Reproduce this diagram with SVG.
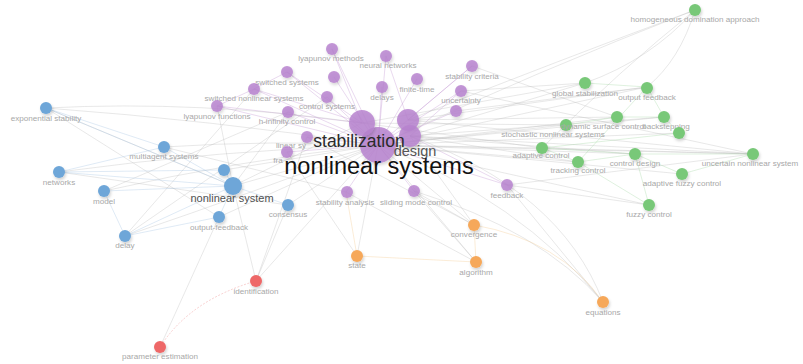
<svg xmlns="http://www.w3.org/2000/svg" width="803" height="364" viewBox="0 0 803 364">
<style>
.e{fill:none;stroke:#b8b8b8;stroke-width:0.6;stroke-opacity:0.55}
.ep{fill:none;stroke:#c49ad6;stroke-width:0.7;stroke-opacity:0.55}
.eb{fill:none;stroke:#9cc0e0;stroke-width:0.6;stroke-opacity:0.55}
.eg{fill:none;stroke:#9ed49e;stroke-width:0.6;stroke-opacity:0.55}
.eo{fill:none;stroke:#f3c98f;stroke-width:0.6;stroke-opacity:0.6}
.er{fill:none;stroke:#f0a0a0;stroke-width:0.7;stroke-opacity:0.7;stroke-dasharray:2 1.5}
.p{fill:#b783cf;fill-opacity:0.85}
.b{fill:#6ea6d8}
.g{fill:#78c878}
.o{fill:#f6a85a}
.r{fill:#ee6868}
circle{filter:url(#sh)}
text{font-family:"Liberation Sans",Arial,sans-serif;text-anchor:middle}
.l{font-size:8.1px;fill:#a8a8a8}
.m{font-size:11px;fill:#505050}
</style>
<defs>
<filter id="sh" x="-60%" y="-60%" width="220%" height="220%">
<feDropShadow dx="1" dy="2" stdDeviation="1.6" flood-color="#000" flood-opacity="0.18"/>
</filter>
</defs>
<rect width="803" height="364" fill="#fff"/>
<g id="connectors">
<path class="ep" d="M378 145 L332 49"/>
<path class="ep" d="M378 145 L386 56"/>
<path class="ep" d="M378 145 L287 72"/>
<path class="ep" d="M378 145 L334 77"/>
<path class="ep" d="M378 145 L254 89"/>
<path class="ep" d="M378 145 L217 106"/>
<path class="ep" d="M378 145 L327 97"/>
<path class="ep" d="M378 145 L382 87"/>
<path class="ep" d="M378 145 L417 79"/>
<path class="ep" d="M378 145 L472 66"/>
<path class="ep" d="M378 145 L461 91"/>
<path class="ep" d="M378 145 L456 111"/>
<path class="ep" d="M378 145 L288 112"/>
<path class="ep" d="M378 145 L307 137"/>
<path class="ep" d="M378 145 L287 152"/>
<path class="ep" d="M378 145 L346 192"/>
<path class="ep" d="M378 145 L414 191"/>
<path class="ep" d="M378 145 L507 185"/>
<path class="ep" d="M362 123 L287 72"/>
<path class="ep" d="M362 123 L254 89"/>
<path class="ep" d="M362 123 L217 106"/>
<path class="ep" d="M362 123 L332 49"/>
<path class="ep" d="M408 120 L472 66"/>
<path class="ep" d="M408 120 L386 56"/>
<path class="ep" d="M410 136 L461 91"/>
<path class="ep" d="M410 136 L507 185"/>
<path class="ep" d="M287 72 L254 89"/>
<path class="ep" d="M254 89 L217 106"/>
<path class="e" d="M378 145 Q210 120 46 108"/>
<path class="e" d="M362 123 Q200 100 46 108"/>
<path class="e" d="M378 145 Q270 140 164 147"/>
<path class="e" d="M378 145 Q220 150 59 172"/>
<path class="e" d="M378 145 Q240 160 104 191"/>
<path class="e" d="M378 145 Q260 190 125 236"/>
<path class="e" d="M378 145 L233 186"/>
<path class="e" d="M362 123 L233 186"/>
<path class="e" d="M378 145 L224 170"/>
<path class="e" d="M378 145 L219 217"/>
<path class="e" d="M378 145 L288 205"/>
<path class="e" d="M378 145 L256 281"/>
<path class="e" d="M378 145 Q540 70 695 10"/>
<path class="e" d="M408 120 Q560 60 695 10"/>
<path class="e" d="M585 83 Q650 60 695 10"/>
<path class="e" d="M647 87 Q680 60 695 10"/>
<path class="e" d="M542 148 Q620 70 695 10"/>
<path class="e" d="M378 145 L585 83"/>
<path class="e" d="M362 123 L585 83"/>
<path class="e" d="M378 145 L647 87"/>
<path class="e" d="M408 120 L647 87"/>
<path class="e" d="M378 145 L566 125"/>
<path class="e" d="M362 123 L566 125"/>
<path class="e" d="M378 145 L617 117"/>
<path class="e" d="M408 120 L617 117"/>
<path class="e" d="M378 145 L664 117"/>
<path class="e" d="M410 136 L664 117"/>
<path class="e" d="M378 145 L679 133"/>
<path class="e" d="M378 145 L542 148"/>
<path class="e" d="M362 123 L542 148"/>
<path class="e" d="M378 145 L578 162"/>
<path class="e" d="M410 136 L578 162"/>
<path class="e" d="M378 145 L635 154"/>
<path class="e" d="M410 136 L635 154"/>
<path class="e" d="M378 145 L682 174"/>
<path class="e" d="M378 145 L753 154"/>
<path class="e" d="M410 136 L753 154"/>
<path class="e" d="M408 120 L753 154"/>
<path class="e" d="M378 145 L649 205"/>
<path class="e" d="M378 145 L474 225"/>
<path class="e" d="M410 136 L474 225"/>
<path class="e" d="M378 145 L476 262"/>
<path class="e" d="M378 145 L357 256"/>
<path class="e" d="M378 145 Q520 200 603 302"/>
<path class="e" d="M410 136 Q560 190 603 302"/>
<path class="e" d="M461 91 L585 83"/>
<path class="e" d="M456 111 L647 87"/>
<path class="e" d="M472 66 L617 117"/>
<path class="e" d="M461 91 L753 154"/>
<path class="e" d="M507 185 L649 205"/>
<path class="e" d="M346 192 L476 262"/>
<path class="e" d="M414 191 L476 262"/>
<path class="e" d="M414 191 L474 225"/>
<path class="e" d="M307 137 L474 225"/>
<path class="e" d="M288 112 L233 186"/>
<path class="e" d="M217 106 L233 186"/>
<path class="e" d="M46 108 L219 217"/>
<path class="e" d="M46 108 L233 186"/>
<path class="e" d="M164 147 L346 192"/>
<path class="e" d="M59 172 L288 205"/>
<path class="e" d="M104 191 L288 112"/>
<path class="e" d="M125 236 L254 89"/>
<path class="e" d="M125 236 L327 97"/>
<path class="e" d="M219 217 L160 347"/>
<path class="e" d="M256 281 L288 205"/>
<path class="e" d="M256 281 L233 186"/>
<path class="e" d="M256 281 L307 137"/>
<path class="e" d="M357 256 L287 152"/>
<path class="e" d="M603 302 L507 185"/>
<path class="e" d="M603 302 Q540 230 414 191"/>
<path class="e" d="M753 154 L542 148"/>
<path class="e" d="M507 185 L753 154"/>
<path class="eb" d="M233 186 L46 108"/>
<path class="eb" d="M233 186 L164 147"/>
<path class="eb" d="M233 186 L59 172"/>
<path class="eb" d="M233 186 L104 191"/>
<path class="eb" d="M233 186 L125 236"/>
<path class="eb" d="M233 186 L219 217"/>
<path class="eb" d="M233 186 L288 205"/>
<path class="eb" d="M233 186 L224 170"/>
<path class="eb" d="M164 147 L59 172"/>
<path class="eb" d="M164 147 L46 108"/>
<path class="eb" d="M125 236 L104 191"/>
<path class="eb" d="M125 236 L219 217"/>
<path class="eb" d="M224 170 L59 172"/>
<path class="eg" d="M585 83 L647 87"/>
<path class="eg" d="M617 117 L664 117"/>
<path class="eg" d="M566 125 L617 117"/>
<path class="eg" d="M542 148 L578 162"/>
<path class="eg" d="M542 148 L635 154"/>
<path class="eg" d="M578 162 L635 154"/>
<path class="eg" d="M635 154 L753 154"/>
<path class="eg" d="M635 154 L682 174"/>
<path class="eg" d="M682 174 L753 154"/>
<path class="eg" d="M578 162 L649 205"/>
<path class="eg" d="M635 154 L649 205"/>
<path class="eg" d="M664 117 L679 133"/>
<path class="eg" d="M647 87 L664 117"/>
<path class="eg" d="M647 87 L578 162"/>
<path class="eg" d="M679 133 L542 148"/>
<path class="eo" d="M357 256 L476 262"/>
<path class="eo" d="M474 225 L476 262"/>
<path class="eo" d="M474 225 Q560 240 603 302"/>
<path class="eo" d="M357 256 L346 192"/>
<path class="er" d="M256 281 Q190 300 160 347"/>
</g>
<g id="n-nonlinear-systems"><circle class="p" cx="378" cy="145" r="18"/></g>
<g id="n-stabilization"><circle class="p" cx="362" cy="123" r="13"/></g>
<g id="n-p17"><circle class="p" cx="408" cy="120" r="11"/></g>
<g id="n-design"><circle class="p" cx="410" cy="136" r="11"/></g>
<g id="n-lyapunov-methods"><circle class="p" cx="332" cy="49" r="6"/><text class="l" x="331" y="61">lyapunov methods</text></g>
<g id="n-neural-networks"><circle class="p" cx="386" cy="56" r="6"/><text class="l" x="388" y="68">neural networks</text></g>
<g id="n-switched-systems"><circle class="p" cx="287" cy="72" r="6"/><text class="l" x="287" y="85">switched systems</text></g>
<g id="n-p4"><circle class="p" cx="334" cy="77" r="6"/></g>
<g id="n-switched-nonlinear-systems"><circle class="p" cx="254" cy="89" r="6"/><text class="l" x="254" y="101">switched nonlinear systems</text></g>
<g id="n-lyapunov-functions"><circle class="p" cx="217" cy="106" r="6"/><text class="l" x="217" y="119">lyapunov functions</text></g>
<g id="n-control-systems"><circle class="p" cx="327" cy="97" r="6"/><text class="l" x="327" y="109">control systems</text></g>
<g id="n-delays"><circle class="p" cx="382" cy="87" r="6"/><text class="l" x="382" y="100">delays</text></g>
<g id="n-finite-time"><circle class="p" cx="417" cy="79" r="6"/><text class="l" x="417" y="92">finite-time</text></g>
<g id="n-stability-criteria"><circle class="p" cx="472" cy="66" r="6"/><text class="l" x="472" y="79">stability criteria</text></g>
<g id="n-uncertainty"><circle class="p" cx="461" cy="91" r="6"/><text class="l" x="461" y="103">uncertainty</text></g>
<g id="n-p12"><circle class="p" cx="456" cy="111" r="6"/></g>
<g id="n-h-infinity-control"><circle class="p" cx="288" cy="112" r="6"/><text class="l" x="287" y="124">h-infinity control</text></g>
<g id="n-linear-systems"><circle class="p" cx="307" cy="137" r="6"/><text class="l" x="291" y="148">linear sy</text></g>
<g id="n-fra"><circle class="p" cx="287" cy="152" r="6"/><text class="l" x="278" y="163">fra</text></g>
<g id="n-stability-analysis"><circle class="p" cx="347" cy="192" r="6"/><text class="l" x="345" y="205">stability analysis</text></g>
<g id="n-sliding-mode-control"><circle class="p" cx="414" cy="191" r="6"/><text class="l" x="416" y="205">sliding mode control</text></g>
<g id="n-feedback"><circle class="p" cx="507" cy="185" r="6"/><text class="l" x="507" y="198">feedback</text></g>
<g id="n-homogeneous"><circle class="g" cx="695" cy="10" r="6"/><text class="l" x="695" y="22">homogeneous domination approach</text></g>
<g id="n-global-stabilization"><circle class="g" cx="585" cy="83" r="6"/><text class="l" x="585" y="96">global stabilization</text></g>
<g id="n-output-feedback"><circle class="g" cx="647" cy="88" r="6"/><text class="l" x="647" y="100">output feedback</text></g>
<g id="n-stochastic"><circle class="g" cx="566" cy="125" r="6"/><text class="l" x="553" y="137">stochastic nonlinear systems</text></g>
<g id="n-dynamic-surface"><circle class="g" cx="617" cy="117" r="6"/><text class="l" x="603" y="129">dynamic surface control</text></g>
<g id="n-backstepping"><circle class="g" cx="664" cy="117" r="6"/><text class="l" x="666" y="129">backstepping</text></g>
<g id="n-g7"><circle class="g" cx="679" cy="133" r="6"/></g>
<g id="n-adaptive-control"><circle class="g" cx="542" cy="148" r="6"/><text class="l" x="541" y="158">adaptive control</text></g>
<g id="n-tracking-control"><circle class="g" cx="578" cy="162" r="6"/><text class="l" x="578" y="173">tracking control</text></g>
<g id="n-control-design"><circle class="g" cx="635" cy="154" r="6"/><text class="l" x="635" y="166">control design</text></g>
<g id="n-adaptive-fuzzy"><circle class="g" cx="682" cy="174" r="6"/><text class="l" x="682" y="186">adaptive fuzzy control</text></g>
<g id="n-uncertain-nonlinear"><circle class="g" cx="753" cy="154" r="6"/><text class="l" x="750" y="166">uncertain nonlinear system</text></g>
<g id="n-fuzzy-control"><circle class="g" cx="649" cy="205" r="6"/><text class="l" x="649" y="217">fuzzy control</text></g>
<g id="n-exponential-stability"><circle class="b" cx="46" cy="108" r="6"/><text class="l" x="46" y="121">exponential stability</text></g>
<g id="n-multiagent"><circle class="b" cx="164" cy="147" r="6"/><text class="l" x="164" y="159">multiagent systems</text></g>
<g id="n-networks"><circle class="b" cx="59" cy="172" r="6"/><text class="l" x="59" y="185">networks</text></g>
<g id="n-model"><circle class="b" cx="104" cy="191" r="6"/><text class="l" x="104" y="204">model</text></g>
<g id="n-b5"><circle class="b" cx="224" cy="170" r="6"/></g>
<g id="n-nonlinear-system"><circle class="b" cx="233" cy="186" r="9"/><text class="m" x="232" y="202">nonlinear system</text></g>
<g id="n-output-feedback-b"><circle class="b" cx="219" cy="217" r="6"/><text class="l" x="219" y="230">output-feedback</text></g>
<g id="n-delay"><circle class="b" cx="125" cy="236" r="6"/><text class="l" x="125" y="248">delay</text></g>
<g id="n-consensus"><circle class="b" cx="288" cy="205" r="6"/><text class="l" x="288" y="217">consensus</text></g>
<g id="n-identification"><circle class="r" cx="256" cy="281" r="6"/><text class="l" x="256" y="294">identification</text></g>
<g id="n-parameter-estimation"><circle class="r" cx="160" cy="347" r="6"/><text class="l" x="160" y="359">parameter estimation</text></g>
<g id="n-convergence"><circle class="o" cx="474" cy="225" r="6"/><text class="l" x="474" y="237">convergence</text></g>
<g id="n-state"><circle class="o" cx="357" cy="256" r="6"/><text class="l" x="357" y="268">state</text></g>
<g id="n-algorithm"><circle class="o" cx="476" cy="262" r="6"/><text class="l" x="476" y="275">algorithm</text></g>
<g id="n-equations"><circle class="o" cx="603" cy="302" r="6"/><text class="l" x="603" y="315">equations</text></g>
<g id="big-labels">
<text x="359" y="147" style="font-size:17.5px;fill:#2a2a2a">stabilization</text>
<text x="415" y="156" style="font-size:14.5px;fill:#555">design</text>
<text x="379" y="174" style="font-size:23.5px;fill:#111">nonlinear systems</text>
</g>
</svg>
